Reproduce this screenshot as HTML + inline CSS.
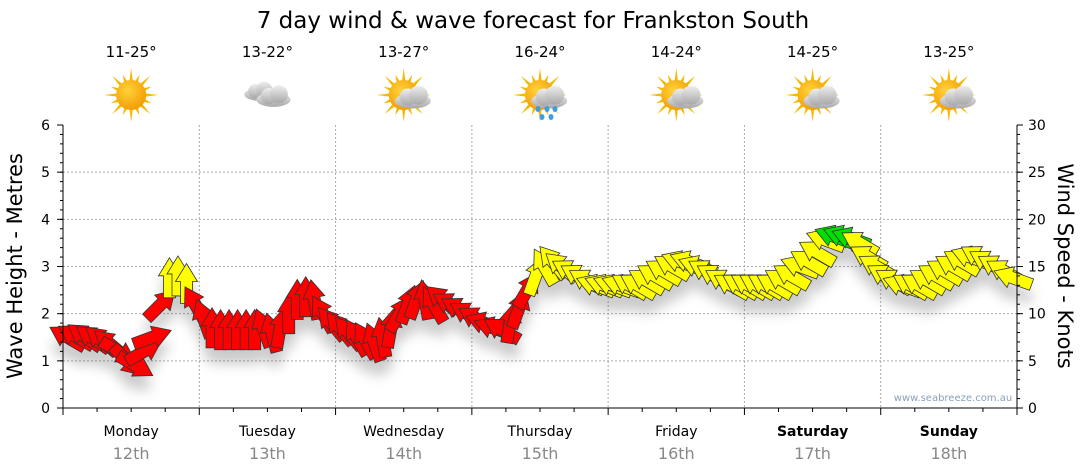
<!DOCTYPE html>
<html><head><meta charset="utf-8">
<style>
body{margin:0;background:#fff;}
svg{display:block;font-family:"DejaVu Sans","Liberation Sans",sans-serif;}
</style></head>
<body>
<svg id="chart" width="1080" height="475" viewBox="0 0 1080 475">
<defs>
<radialGradient id="sunG" cx="40%" cy="35%" r="70%"><stop offset="0" stop-color="#ffd23a"/><stop offset="1" stop-color="#f39a00"/></radialGradient>
<linearGradient id="cloudG" x1="0" y1="0" x2="0" y2="1"><stop offset="0" stop-color="#eee"/><stop offset="1" stop-color="#a8a8a8"/></linearGradient>
<filter id="shadow" x="-50%" y="-50%" width="200%" height="200%"><feGaussianBlur stdDeviation="6"/></filter>
</defs>
<text x="533" y="28" text-anchor="middle" font-size="23" fill="#000">7 day wind &amp; wave forecast for Frankston South</text>
<g id="weather"></g>
<g id="grid"></g>
<g id="shadows" filter="url(#shadow)" opacity="0.3"></g>
<g id="arrows"></g>
<g id="axes"></g>
<text x="953" y="401" text-anchor="middle" font-size="10" fill="#8aa0b8">www.seabreeze.com.au</text>
<text transform="translate(22,266) rotate(-90)" text-anchor="middle" font-size="21" fill="#000">Wave Height - Metres</text>
<text transform="translate(1058,266) rotate(90)" text-anchor="middle" font-size="21" fill="#000">Wind Speed - Knots</text>
</svg>
<script>
const days = ["Monday","Tuesday","Wednesday","Thursday","Friday","Saturday","Sunday"];
const dates = ["12th","13th","14th","15th","16th","17th","18th"];
const temps = ["11-25°","13-22°","13-27°","16-24°","14-24°","14-25°","13-25°"];
const icons = ["sun","cloud","partly","rain","partly","partly","partly"];
const waveTicks = [0,1,2,3,4,5,6];
const windTicks = [0,5,10,15,20,25,30];
const windSpeed = [
7.5,7.6,7.6,7.4,7.2,6.8,6,5,4.5,6,7.5,11,13.8,14,13.2,11,
9.5,8.5,8.3,8.3,8.3,8.3,8.3,8.5,8,8.5,10,11.5,11.8,11.5,10,9,
8.5,8,7.5,7.2,7,7.5,8.5,10,11,11.5,11.5,11,11.5,11,10.5,10,
9.5,9,8.5,8.3,9,10.5,12.5,14,15,15.5,15,14.5,14,13.5,13,13,
13,13,13,13,13.5,14,14.5,15,15.5,15.5,15,14.5,14,13.5,13,13,
13,13,13,13,13.5,14,15,15.5,16.5,17.8,18.2,18.2,18,17.5,16,15,
14,13.5,13,13,13,13.5,14,14.5,15,15.5,16,16,15.5,15,14.5,13.8];
const windDir = [
300,300,305,305,310,310,120,135,120,60,70,45,0,0,0,330,
340,0,0,0,0,0,0,340,345,10,0,0,0,350,330,320,
320,320,330,330,340,350,10,30,20,20,350,330,310,300,300,300,
300,290,290,300,10,20,30,20,330,320,310,300,300,300,290,290,
290,290,300,300,300,300,300,300,290,290,290,300,300,300,300,300,
300,300,300,300,300,300,290,300,300,290,290,290,290,300,300,300,
300,300,290,300,300,300,300,300,300,300,290,300,300,300,300,290];

const NS="http://www.w3.org/2000/svg";
const X0=63,X1=1017,Y0=408,Y1=125;
const xT=h=>X0+h*(X1-X0)/168;
const yW=k=>Y0-k*(Y0-Y1)/30;
const yM=m=>Y0-m*(Y0-Y1)/6;
function mk(tag,attrs,parent){const e=document.createElementNS(NS,tag);for(const k in attrs)e.setAttribute(k,attrs[k]);parent.appendChild(e);return e;}
const grid=document.getElementById('grid'),axes=document.getElementById('axes');
waveTicks.forEach(m=>{
  if(m>0&&m<6){const l=mk('line',{x1:X0,x2:X1,y1:yM(m),y2:yM(m),stroke:'#aaa','stroke-dasharray':'2,2'},grid);
  
  }
  const t=mk('text',{x:50,y:yM(m)+5,'text-anchor':'end','font-size':14},axes);t.textContent=m;
  
  
});
windTicks.forEach(k=>{
  const t=mk('text',{x:1028,y:yW(k)+5,'font-size':14},axes);t.textContent=k;
  
  
  mk('line',{x1:X1,x2:X1+6,y1:yW(k),y2:yW(k),stroke:'#000'},axes);
  mk('line',{x1:X0-6,x2:X0,y1:yW(k),y2:yW(k),stroke:'#000'},axes);
});
for(let i=0;i<=30;i++){mk('line',{x1:X1,x2:X1+3,y1:yW(i),y2:yW(i),stroke:'#000'},axes);mk('line',{x1:X0-3,x2:X0,y1:yW(i),y2:yW(i),stroke:'#000'},axes);}
for(let d=1;d<7;d++){const l=mk('line',{x1:xT(d*24),x2:xT(d*24),y1:Y1,y2:Y0,stroke:'#aaa','stroke-dasharray':'2,2'},grid);
  
  }
mk('line',{x1:X0,x2:X0,y1:Y1,y2:Y0,stroke:'#000'},axes);
mk('line',{x1:X1,x2:X1,y1:Y1,y2:Y0,stroke:'#000'},axes);
mk('line',{x1:X0,x2:X1,y1:Y0,y2:Y0,stroke:'#000'},axes);
for(let h=0;h<=168;h+=6){mk('line',{x1:xT(h),x2:xT(h),y1:Y0,y2:Y0+(h%24?4:7),stroke:'#000'},axes);}
days.forEach((d,i)=>{
  const cx=xT(i*24+12);
  const t=mk('text',{x:cx,y:436,'text-anchor':'middle','font-size':14,'font-weight':i>=5?'bold':'normal'},axes);t.textContent=d;
  
  
  const t2=mk('text',{x:cx,y:459,'text-anchor':'middle','font-size':16,fill:'#888'},axes);t2.textContent=dates[i];
  
  
  const t3=mk('text',{x:cx,y:57,'text-anchor':'middle','font-size':15},document.getElementById('weather'));t3.textContent=temps[i];
  
  
  drawIcon(icons[i],cx,95);
});
function drawIcon(kind,cx,cy){
  const g=mk('g',{},document.getElementById('weather'));
  
  
  if(kind!=='cloud'){
    for(let a=0;a<360;a+=22.5){const r=a*Math.PI/180,L=(a/22.5)%2?22:27;
      mk('polygon',{points:`${cx+Math.cos(r)*L},${cy+Math.sin(r)*L} ${cx+Math.cos(r+0.12)*14},${cy+Math.sin(r+0.12)*14} ${cx+Math.cos(r-0.12)*14},${cy+Math.sin(r-0.12)*14}`,fill:'#f5b800'},g);}
    mk('circle',{cx:cx,cy:cy,r:15,fill:'url(#sunG)'},g);
  }
  if(kind==='cloud'){cloud(g,cx-8,cy-3,0.8);cloud(g,cx+6,cy+2,0.9);}
  else if(kind!=='sun'){cloud(g,cx+9,cy+3,0.95);}
  if(kind==='rain'){[[-2,14],[7,14],[15,14],[2,22],[11,22]].forEach(p=>mk('ellipse',{cx:cx+p[0],cy:cy+p[1],rx:2.5,ry:3,fill:'#3aa0e0'},g));}
}
function cloud(g,x,y,s){
  mk('ellipse',{cx:x,cy:y+3*s,rx:19*s,ry:8*s,fill:'url(#cloudG)'},g);
  mk('circle',{cx:x-5*s,cy:y-1*s,r:9*s,fill:'url(#cloudG)'},g);
  mk('circle',{cx:x+6*s,cy:y-3*s,r:10*s,fill:'url(#cloudG)'},g);
}
const arrowPts="0,-20 11,-2 6,-2 6,20 -6,20 -6,-2 -11,-2";
const ag=document.getElementById('arrows'),sg=document.getElementById('shadows');
const step=168/windSpeed.length;
windSpeed.forEach((k,i)=>{
  const x=xT(i*step+step/2),y=yW(k),dir=windDir[i];
  const col=k>=18?'#00e000':(k>=13?'#ffff00':'#ff0000');
  mk('polygon',{points:arrowPts,transform:`translate(${x},${y+14}) rotate(${dir})`,fill:'#555'},sg);
  const p=mk('polygon',{points:arrowPts,transform:`translate(${x},${y}) rotate(${dir})`,fill:col,stroke:'#333','stroke-width':0.8},ag);
  
  
});
</script>
</body></html>
